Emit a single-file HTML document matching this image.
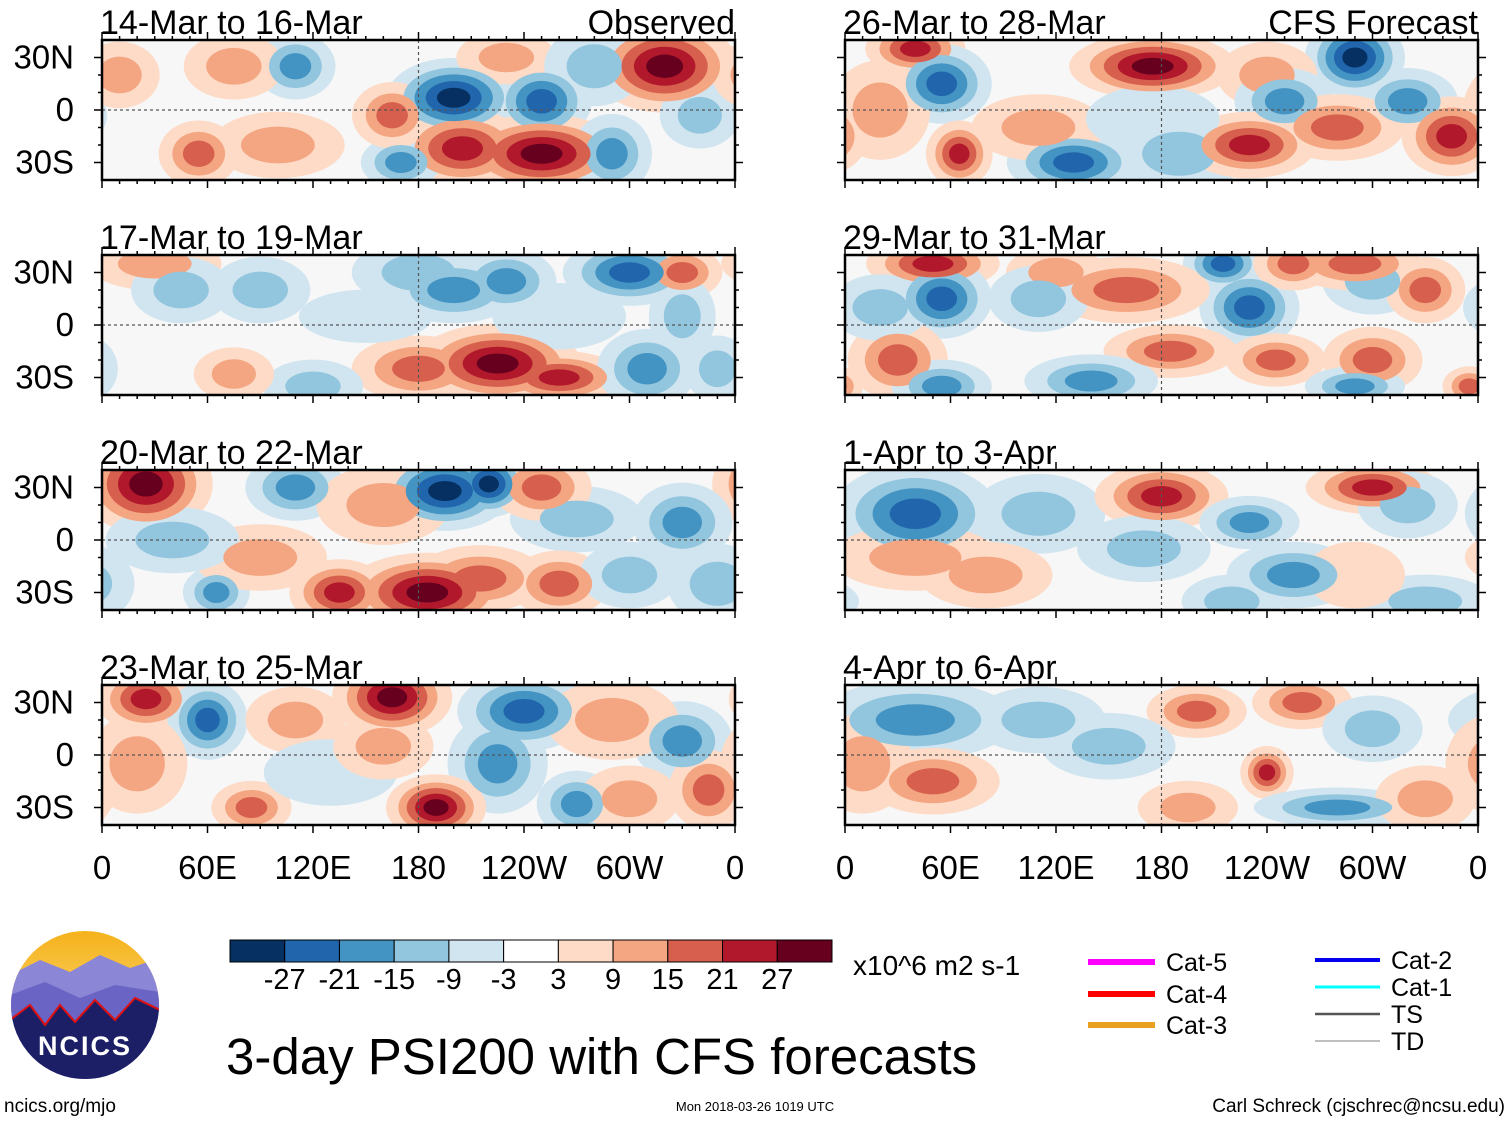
<!DOCTYPE html>
<html><head><meta charset="utf-8">
<style>
body{margin:0;background:#fff;width:1510px;height:1121px;overflow:hidden;font-family:"Liberation Sans",sans-serif}
svg text{font-family:"Liberation Sans",sans-serif}
</style></head>
<body>
<svg id="fig" width="1510" height="1121" viewBox="0 0 1510 1121" xmlns="http://www.w3.org/2000/svg">
<defs>
<linearGradient id="sky" x1="0" y1="0" x2="0" y2="1"><stop offset="0" stop-color="#f5b21b"/><stop offset="1" stop-color="#fde9a0"/></linearGradient>
<clipPath id="logoclip"><circle cx="85" cy="1005" r="74"/></clipPath>
</defs>
<g id="panels"></g>
<g id="colorbar"></g>
<text x="853" y="975" font-size="28">x10^6 m2 s-1</text>
<text x="226" y="1074" font-size="51">3-day PSI200 with CFS forecasts</text>
<g>
<line x1="1088" y1="962" x2="1155" y2="962" stroke="#ff00ff" stroke-width="6"/><text x="1166" y="971" font-size="25">Cat-5</text>
<line x1="1088" y1="994" x2="1155" y2="994" stroke="#ff0000" stroke-width="6"/><text x="1166" y="1003" font-size="25">Cat-4</text>
<line x1="1088" y1="1025" x2="1155" y2="1025" stroke="#e8a020" stroke-width="6"/><text x="1166" y="1034" font-size="25">Cat-3</text>
<line x1="1315" y1="960" x2="1380" y2="960" stroke="#0000ee" stroke-width="4"/><text x="1391" y="969" font-size="25">Cat-2</text>
<line x1="1315" y1="987" x2="1380" y2="987" stroke="#00ffff" stroke-width="3"/><text x="1391" y="996" font-size="25">Cat-1</text>
<line x1="1315" y1="1014" x2="1380" y2="1014" stroke="#555" stroke-width="2.5"/><text x="1391" y="1023" font-size="25">TS</text>
<line x1="1315" y1="1041" x2="1380" y2="1041" stroke="#aaa" stroke-width="1.5"/><text x="1391" y="1050" font-size="25">TD</text>
</g>
<g clip-path="url(#logoclip)">
<rect x="10" y="930" width="150" height="150" fill="url(#sky)"/>
<path d="M10 975 L40 960 L70 972 L100 955 L130 968 L160 958 L160 1080 L10 1080Z" fill="#8b86d6"/>
<path d="M10 995 L45 982 L80 998 L115 985 L160 992 L160 1080 L10 1080Z" fill="#6a64c4"/>
<path d="M10 1020 L30 1005 L45 1025 L60 1005 L75 1022 L95 1000 L115 1020 L135 998 L160 1010 L160 1080 L10 1080Z" fill="#1c1f66" stroke="#e01010" stroke-width="2"/>
</g>
<text x="85" y="1055" font-size="27" font-weight="bold" fill="#fff" text-anchor="middle" letter-spacing="2">NCICS</text>
<text x="4" y="1112" font-size="19">ncics.org/mjo</text>
<text x="755" y="1111" font-size="13" text-anchor="middle">Mon 2018-03-26 1019 UTC</text>
<text x="1505" y="1112" font-size="19" text-anchor="end">Carl Schreck (cjschrec@ncsu.edu)</text>
</svg>
<script>
// blob data: [lon, lat, value, lonRadius, latRadius]
const titles=["14-Mar to 16-Mar","17-Mar to 19-Mar","20-Mar to 22-Mar","23-Mar to 25-Mar","26-Mar to 28-Mar","29-Mar to 31-Mar","1-Apr to 3-Apr","4-Apr to 6-Apr"];
const p1=[[320,25,28,22,14],[200,7,-28,20,12],[250,5,-22,15,12],[110,25,-16,12,10],[250,-25,28,25,12],[205,-22,22,20,12],[55,-25,15,12,10],[170,-30,-20,12,8],[290,-25,-15,12,12],[165,-3,15,12,10],[340,-3,-9,12,10],[75,25,9,15,10],[10,20,9,12,10],[100,-20,9,20,10],[230,30,12,15,8],[280,25,-10,15,12]];
const p2=[[30,35,12,20,8],[45,20,-10,15,10],[180,30,-10,20,10],[200,20,-16,20,10],[230,25,-20,15,10],[300,30,-22,20,10],[330,30,15,12,8],[330,5,-12,10,12],[225,-22,28,25,12],[260,-30,25,20,8],[180,-25,20,20,10],[310,-25,-16,15,12],[350,-25,-10,10,10],[120,-35,-10,15,8],[75,-28,9,12,8],[150,5,-8,20,8],[260,5,-8,20,10],[90,20,-9,15,10]];
const p3=[[25,32,28,20,15],[110,30,-20,15,10],[195,28,-28,20,12],[220,32,-28,12,10],[330,10,-20,15,12],[270,12,-10,20,10],[160,20,12,20,12],[250,30,15,15,10],[185,-30,28,25,12],[135,-30,22,15,10],[215,-22,18,20,10],[260,-25,15,15,10],[65,-30,-20,10,8],[350,-25,-12,15,12],[90,-10,9,20,10],[40,0,-9,20,10],[300,-20,-10,15,10]];
const p4=[[25,32,24,15,10],[60,20,-26,12,12],[165,33,28,18,12],[240,25,-22,20,12],[225,-5,-16,15,15],[330,8,-16,15,12],[290,20,12,20,12],[110,20,10,15,10],[190,-30,28,15,10],[85,-30,20,12,8],[270,-28,-15,12,10],[345,-20,20,12,12],[300,-25,12,15,10],[20,-5,10,15,15],[130,-10,-8,20,10],[160,5,12,15,10]];
const p5=[[40,35,24,15,8],[55,15,-22,15,12],[175,25,28,25,10],[290,30,-28,15,12],[240,20,14,15,10],[250,5,-20,15,10],[320,5,-15,15,10],[20,0,10,15,15],[65,-25,24,10,10],[130,-30,-22,20,10],[190,-25,-10,20,12],[230,-20,25,20,10],[280,-10,18,20,10],[345,-15,22,15,12],[110,-10,12,20,10],[175,-5,-8,20,10]];
const p6=[[50,35,25,20,8],[55,15,-24,15,12],[215,35,-22,12,8],[230,10,-26,15,12],[300,25,-12,15,10],[290,35,18,20,8],[160,20,15,25,10],[120,30,12,15,8],[255,35,15,12,8],[330,20,15,12,10],[110,15,-12,15,10],[185,-15,15,20,8],[245,-20,18,15,8],[300,-20,20,15,10],[30,-20,15,15,12],[55,-35,-15,15,8],[140,-32,-15,20,8],[290,-35,-15,15,6],[355,-35,20,8,6],[20,10,-10,15,10]];
const p7=[[40,15,-26,25,15],[110,15,-12,20,12],[180,25,26,20,10],[300,30,24,20,8],[320,20,-12,15,10],[230,10,-16,15,8],[170,-5,-10,20,10],[40,-10,12,25,10],[80,-20,10,20,10],[255,-20,-15,20,10],[220,-35,-10,15,8],[330,-35,-10,20,8],[290,-20,8,15,10]];
const p8=[[40,20,-20,30,12],[110,20,-12,20,10],[200,25,20,15,8],[260,30,15,15,8],[300,15,-12,15,10],[240,-10,22,8,8],[50,-15,15,20,10],[195,-30,12,15,8],[280,-30,-16,25,6],[10,-5,10,15,15],[150,5,-9,20,10],[330,-25,12,15,10]];
const panelData=[p1,p2,p3,p4,p5,p6,p7,p8];
const cbLabels=["-27","-21","-15","-9","-3","3","9","15","21","27"];
const xLabels=["0","60E","120E","180","120W","60W","0"];
const yLabels=["30N","0","30S"];
const yVals=[30,0,-30];
const thr=[3,9,15,21,27];
const posC=["#fddbc7","#f4a582","#d6604d","#b2182b","#67001f"];
const negC=["#d1e5f0","#92c5de","#4393c3","#2166ac","#053061"];
const cbColors=["#053061","#2166ac","#4393c3","#92c5de","#d1e5f0","#ffffff","#fddbc7","#f4a582","#d6604d","#b2182b","#67001f"];
const NS="http://www.w3.org/2000/svg";
function mk(t,a,p){const e=document.createElementNS(NS,t);for(const k in a)e.setAttribute(k,a[k]);p.appendChild(e);return e;}
const root=document.getElementById('panels');
const W=633,H=140,pxDeg=1.75;
const eqs=[110,325,540,755];
panelData.forEach((blobs,i)=>{
  const col=i<4?0:1, row=i%4;
  const x0=col?845:102, yEq=eqs[row], top=yEq-70;
  const lonX=l=>x0+l*W/360, latY=l=>yEq-l*pxDeg;
  const g=mk('g',{},root);
  
  
  const cp=mk('clipPath',{id:'cp'+i},g);
  mk('rect',{x:x0,y:top,width:W,height:H},cp);
  const f=mk('g',{'clip-path':'url(#cp'+i+')'},g);
  mk('rect',{x:x0,y:top,width:W,height:H,fill:'#f7f7f7'},f);
  for(let k=0;k<5;k++){
    blobs.forEach(b=>{
      const a=Math.abs(b[2]);const n=thr.filter(t=>a>=t).length;
      if(k>=n)return;
      const s=1-k/(n+0.5);
      const c=b[2]>0?posC[k]:negC[k];
      const sc=k===0?1.9:1.75;
      [-360,0,360].forEach(o=>{
        const e=mk('ellipse',{cx:lonX(b[0]+o),cy:latY(b[1]),rx:b[3]*s*W/360*sc,ry:b[4]*s*pxDeg*sc,fill:c},f);
        
        
      });
    });
  }
  mk('line',{x1:x0,y1:yEq,x2:x0+W,y2:yEq,stroke:'#555','stroke-dasharray':'3,3','stroke-width':1.2},g);
  mk('line',{x1:lonX(180),y1:top,x2:lonX(180),y2:top+H,stroke:'#555','stroke-dasharray':'3,3','stroke-width':1.2},g);
  mk('rect',{x:x0,y:top,width:W,height:H,fill:'none',stroke:'#000','stroke-width':2.5},g);
  for(let l=0;l<=360;l+=10){
    const L=l%60==0?8:4;
    mk('line',{x1:lonX(l),y1:top,x2:lonX(l),y2:top-L,stroke:'#000','stroke-width':1.5},g);
    mk('line',{x1:lonX(l),y1:top+H,x2:lonX(l),y2:top+H+L,stroke:'#000','stroke-width':1.5},g);
  }
  for(let l=-30;l<=30;l+=10){
    const L=l%30==0?8:4;
    mk('line',{x1:x0,y1:latY(l),x2:x0-L,y2:latY(l),stroke:'#000','stroke-width':1.5},g);
    mk('line',{x1:x0+W,y1:latY(l),x2:x0+W+L,y2:latY(l),stroke:'#000','stroke-width':1.5},g);
  }
  const t=mk('text',{x:x0-2,y:top-6,'font-size':34},g);t.textContent=titles[i];
  
  
  if(row===0){const r=mk('text',{x:x0+W,y:top-6,'font-size':34,'text-anchor':'end'},g);r.textContent=col?'CFS Forecast':'Observed';
    
    }
  if(col===0){yLabels.forEach((s,j)=>{const y=mk('text',{x:74,y:latY(yVals[j])+11,'font-size':33,'text-anchor':'end'},g);y.textContent=s;
    
    });}
  if(row===3){xLabels.forEach((s,j)=>{const x=mk('text',{x:lonX(j*60),y:879,'font-size':33,'text-anchor':'middle'},g);x.textContent=s;
    
    });}
});
const cb=document.getElementById('colorbar');
const cbx=230,cbw=602/11;
cbColors.forEach((c,j)=>{const r=mk('rect',{x:cbx+j*cbw,y:940,width:cbw,height:22,fill:c,stroke:'#000','stroke-width':1},cb);
  
  });
cbLabels.forEach((s,j)=>{const t=mk('text',{x:cbx+(j+1)*cbw,y:989,'font-size':29,'text-anchor':'middle'},cb);t.textContent=s;
  
  });
</script>
</body></html>
